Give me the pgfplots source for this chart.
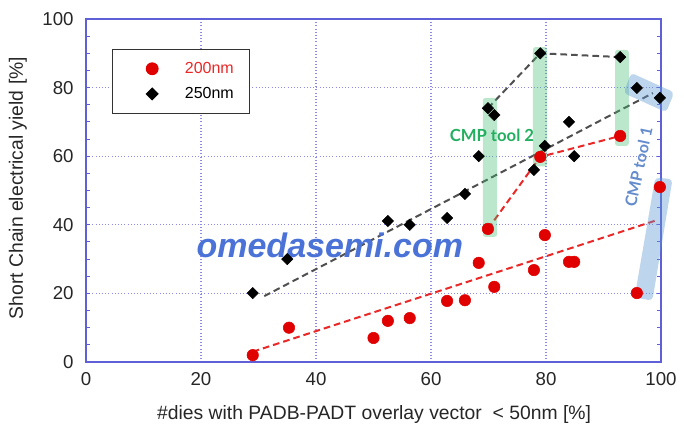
\documentclass[border=0pt]{standalone}
\usepackage{fontspec}
\setmainfont{Liberation Sans}
\newfontfamily\latofont{Lato}
\usepackage{pgfplots}
\usepackage{pgfplotstable}
\pgfplotsset{compat=1.18}
\definecolor{axblue}{RGB}{95,95,215}
\definecolor{gridblue}{RGB}{140,140,230}
\definecolor{mred}{RGB}{225,0,0}
\definecolor{lred}{RGB}{235,40,40}
\definecolor{lgrey}{RGB}{80,80,80}
\definecolor{tgreen}{RGB}{60,190,110}
\definecolor{tblue}{RGB}{90,150,210}
\definecolor{cmpgreen}{RGB}{34,175,95}
\definecolor{cmpblue}{RGB}{100,140,205}
\definecolor{wm}{RGB}{75,115,215}
\pgfplotstableread{
x y
29 2
35.3 10
50 7
52.5 12
56.3 12.8
62.8 17.8
65.9 18
68.3 28.9
69.9 38.8
71 21.9
77.9 26.8
79 59.8
79.8 37
84 29.2
84.9 29.2
92.9 65.9
95.8 20.1
99.8 51
}\redtab
\pgfplotstableread{
x y
29 20.1
35 30
52.5 41.1
56.3 40
62.8 42
65.9 49
68.3 60
69.9 74
71 72
77.9 56
79 90
79.8 63
84 70
84.9 60
92.9 88.9
95.8 79.9
99.8 77
}\blacktab
\begin{document}
\begin{tikzpicture}
\begin{axis}[
  scale only axis,
  width=431.25pt, height=257.25pt,
  xmin=0, xmax=100, ymin=0, ymax=100,
  xtick={0,20,...,100}, ytick={0,20,...,100},
  minor ytick={5,10,...,95},
  tick align=inside,
  major tick length=3pt, minor tick length=3pt,
  xtick style={draw=none},
  ytick style={color=axblue, line width=0.8pt},
  axis line style={axblue, line width=1pt},
  grid=major,
  major grid style={gridblue, dotted, line width=0.8pt},
  /pgf/number format/assume math mode=true,
  tick label style={font=\fontsize{14}{16}\selectfont, color=black!85},
  xticklabel style={yshift=-4pt},
  yticklabel style={xshift=-5.8pt},
  every axis x label/.style={at={(axis description cs:0.501,-0.152)}, anchor=center},
  every axis y label/.style={at={(axis description cs:-0.1183,0.507)}, anchor=center, rotate=90},
  label style={font=\fontsize{14.5}{17}\selectfont, color=black!85},
  xlabel={\#dies with PADB-PADT overlay vector\ \ < 50nm [\%]},
  ylabel={Short Chain electrical yield [\%]},
  clip=false,
  legend style={at={(axis cs:4.5,91.3)}, anchor=north west, draw=black!80, line width=1pt,
    fill=white, font=\fontsize{12}{14}\selectfont, inner xsep=11pt, inner ysep=8.5pt,
    row sep=7pt, nodes={inner sep=1pt}},
  legend cell align=left,
  legend image code/.code={\path[draw=none] (-18.75pt,0pt) -- (23.5pt,0pt); \draw[#1] plot coordinates {(0pt,0pt)};},
]
\coordinate (sw) at (rel axis cs:0,0);
\coordinate (ne) at (rel axis cs:1,1);
% trend and connecting lines
\addplot[forget plot, lgrey, line width=1.5pt, dash pattern=on 5pt off 3pt] coordinates {(31,19.2) (98.6,78.4)};
\addplot[forget plot, lred, line width=1.5pt, dash pattern=on 5pt off 3pt] coordinates {(29,3) (99,41.2)};
\addplot[forget plot, lgrey, line width=1.5pt, dash pattern=on 5pt off 3pt] coordinates {(69.9,74) (79,90) (92.9,88.9)};
\addplot[forget plot, lred, line width=1.5pt, dash pattern=on 5pt off 3pt] coordinates {(69.9,38.8) (79,59.8) (92.9,65.9)};
% markers
\addplot[only marks, mark=*, mark size=4.3pt, mark options={fill=mred, draw=mred}] table[x=x,y=y] {\redtab};
\addlegendentry{\textcolor{lred}{200nm}}
\addplot[only marks, mark=square*, mark size=3pt, mark options={fill=black, draw=black, rotate=45}] table[x=x,y=y] {\blacktab};
\addlegendentry{250nm}
% CMP tool 2 highlight
\fill[tgreen, opacity=0.35, rounded corners=2pt] (axis cs:69.0,36.5) rectangle (axis cs:71.5,77);
\fill[tgreen, opacity=0.35, rounded corners=2pt] (axis cs:77.7,57) rectangle (axis cs:80.2,91.8);
\fill[tgreen, opacity=0.35, rounded corners=2pt] (axis cs:92.0,63) rectangle (axis cs:94.4,91);
% CMP tool 1 highlight
\fill[tblue, opacity=0.4, rounded corners=3pt] (axis cs:94.8,84.3) -- (axis cs:102.3,78.6) -- (axis cs:100.9,72.8) -- (axis cs:93.5,78.4) -- cycle;
\fill[tblue, opacity=0.4, rounded corners=3pt] (axis cs:99,53.8) -- (axis cs:102,53.3) -- (axis cs:98.5,17.9) -- (axis cs:95.4,18.8) -- cycle;
\node[font=\latofont\bfseries\fontsize{12.5}{14}\selectfont, text=cmpgreen] at (axis cs:70.6,66.2) {CMP tool 2};
\node[rotate=78, font=\latofont\bfseries\fontsize{12}{14}\selectfont, text=cmpblue] at (axis cs:96.1,56.8) {CMP tool 1};
\node[font=\bfseries\itshape\fontsize{25.5}{30}\selectfont, text=wm] at (axis cs:42.4,34.1) {omedasemi.com};
\end{axis}
\path (sw) ++(-64.5pt,-59.25pt) coordinate (bba);
\path (ne) ++(17.25pt,14.25pt) coordinate (bbb);
\pgfresetboundingbox
\path (bba) rectangle (bbb);
\end{tikzpicture}
\end{document}
